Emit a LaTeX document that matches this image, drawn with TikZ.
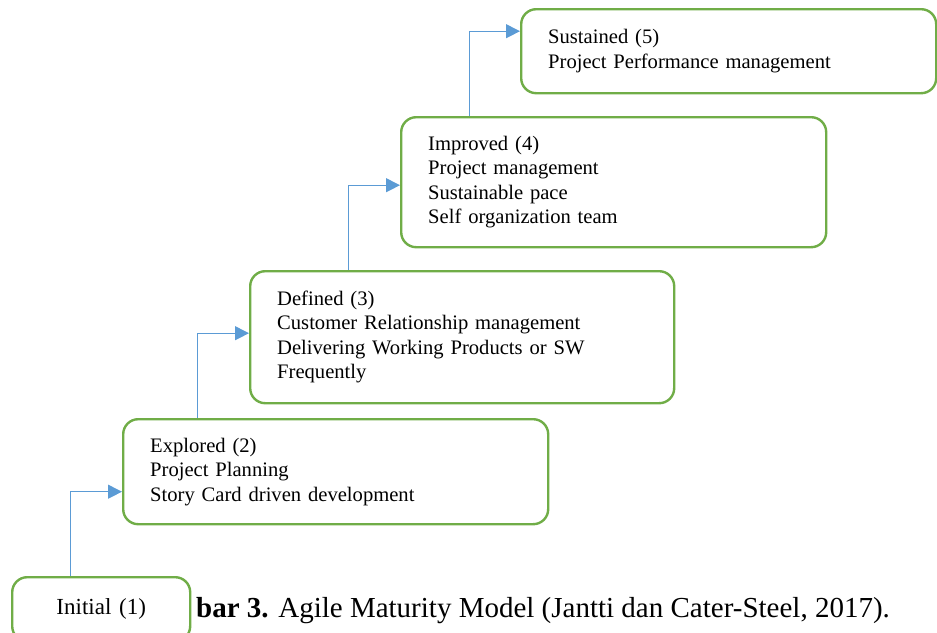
\documentclass[tikz,border=0pt]{standalone}
\usepackage{fontspec}
\setmainfont{Liberation Serif}
\usetikzlibrary{arrows.meta,calc}
\definecolor{boxgreen}{RGB}{112,173,71}
\definecolor{connblue}{RGB}{91,155,213}
\tikzset{
  stage/.style={draw=boxgreen, line width=2.4pt, rounded corners=15pt, fill=white,
    inner xsep=27pt, inner ysep=0pt, align=left, anchor=north west,
    font=\fontsize{20.6}{24.5}\selectfont},
  conn/.style={draw=connblue, line width=1pt, -{Triangle[length=14pt,width=14pt]}},
}
\begin{document}
\begin{tikzpicture}[x=1pt,y=-1pt]
\useasboundingbox (0,0) rectangle (937,632);
\clip (0,0) rectangle (937,632);
\node[stage, text width=124pt, minimum height=64pt, align=center, inner xsep=27pt, font=\fontsize{23}{26}\selectfont] (b1) at (11,576) {Initial (1)};
\node[stage, text width=371pt, minimum height=105pt] (b2) at (122,418) {Explored (2)\\Project Planning\\Story Card driven development};
\node[stage, text width=370pt, minimum height=132pt] (b3) at (249,270) {Defined (3)\\Customer Relationship management\\Delivering Working Products or SW\\Frequently};
\node[stage, text width=371pt, minimum height=130pt] (b4) at (400,116) {Improved (4)\\Project management\\Sustainable pace\\Self organization team};
\node[stage, text width=361pt, minimum height=84pt] (b5) at (520,8) {Sustained (5)\\Project Performance management};
\coordinate (s1) at ($(b1.north west)+(59,0)$);
\coordinate (s2) at ($(b2.north west)+(75,0)$);
\coordinate (s3) at ($(b3.north west)+(99,0)$);
\coordinate (s4) at ($(b4.north west)+(69,0)$);
\draw[conn] (s1) |- ($(b2.west)+(0,20)$);
\draw[conn] (s2) |- ($(b3.west)+(0,-4)$);
\draw[conn] (s3) |- ($(b4.west)+(0,3)$);
\draw[conn] (s4) |- ($(b5.west)+(0,-20)$);
\node[anchor=base west, inner sep=0pt, font=\fontsize{29}{32}\selectfont] (cap) at (196,617) {\textbf{bar 3.} Agile Maturity Model (Jantti dan Cater-Steel, 2017).};
\end{tikzpicture}
\end{document}
